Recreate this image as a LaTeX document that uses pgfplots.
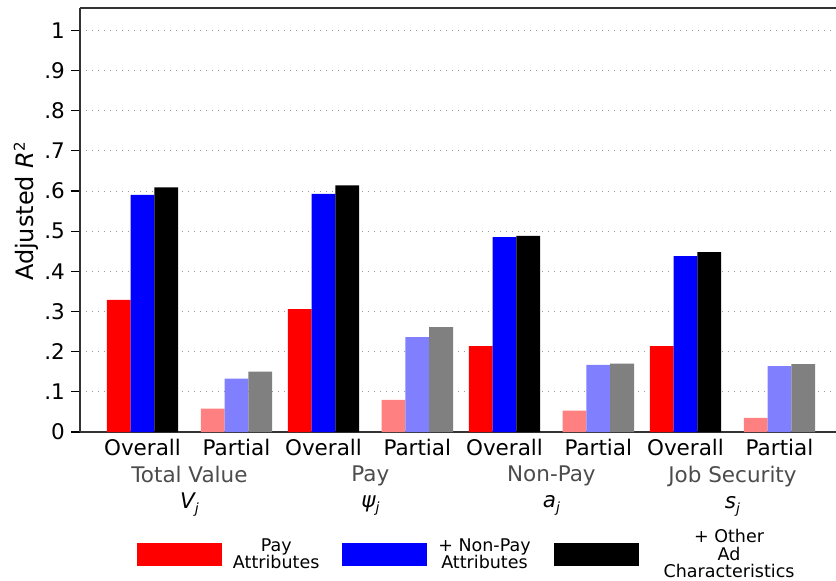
\documentclass[border=0pt]{standalone}
\usepackage{pgfplots}
\usepackage{pgfplotstable}
\usepackage{fontspec}
\setmainfont{DejaVu Sans}
\pgfplotsset{compat=1.18}

\definecolor{lred}{RGB}{255,128,128}
\definecolor{lblue}{RGB}{128,128,255}
\definecolor{mgray}{RGB}{128,128,128}

% x positions in pt from the left edge of the axis
\pgfplotstableread{
x     pay    nonpay  other
62.5  0.329  0.590   0.609
243.5 0.306  0.593   0.614
424.5 0.214  0.485   0.488
605.5 0.214  0.438   0.448
}\overall
\pgfplotstableread{
x     pay    nonpay  other
156.5 0.058  0.133   0.150
337.3 0.080  0.236   0.261
518.3 0.053  0.167   0.170
699.5 0.035  0.164   0.169
}\partial

\newcommand\sub[1]{\raisebox{-5pt}{\fontsize{14}{14}\selectfont\itshape #1}}
\pgfplotsset{
  boxlegend/.style={legend image code/.code={\fill[##1] (0pt,-11.5pt) rectangle (85pt,11.5pt);}},
  boxlegendwide/.style={legend image code/.code={\fill[##1] (0pt,-11.5pt) rectangle (85pt,11.5pt); \path[draw=none, fill=none] (99pt,-1pt) rectangle (99pt,1pt);}},
}

\begin{document}
\begin{tikzpicture}
\begin{axis}[
  name=ax,
  scale only axis, width=756pt, height=424pt,
  xmin=0, xmax=756, ymin=0, ymax=1.0555,
  axis x line=box, axis y line=left,
  axis line style={-, draw=black!80, line width=1.6pt},
  ybar, bar width=23.8pt,
  xtick={62.5,156.5,243.5,337.3,424.5,518.3,605.5,699.5},
  xticklabels={Overall,Partial,Overall,Partial,Overall,Partial,Overall,Partial},
  xtick style={draw=none},
  xticklabel style={inner sep=0pt, anchor=north, yshift=2.5pt, font=\fontsize{21.5}{26}\selectfont},
  extra x ticks={109.5,290.4,471.4,652.5},
  extra x tick labels={
    {\textcolor{black!70}{Total Value}\\{\itshape V}\sub{j}},
    {\textcolor{black!70}{Pay}\\{\itshape ψ}\sub{j}},
    {\textcolor{black!70}{Non-Pay}\\{\itshape a}\sub{j}},
    {\textcolor{black!70}{Job Security}\\{\itshape s}\sub{j}}},
  extra x tick style={major tick length=0pt, grid=none,
    tick label style={yshift=-36.5pt, align=center, font=\fontsize{21.5}{29}\selectfont}},
  ytick={0,0.1,0.2,0.3,0.4,0.5,0.6,0.7,0.8,0.9,1},
  yticklabels={0,.1,.2,.3,.4,.5,.6,.7,.8,.9,1},
  ytick pos=left, tick align=outside, major tick length=9pt,
  ytick style={line width=1.2pt, black},
  yticklabel style={inner sep=0pt, xshift=-6pt, font=\fontsize{21.5}{26}\selectfont},
  ymajorgrids,
  grid style={line width=0.9pt, gray!80, dash pattern=on 0.9pt off 5.1pt},
  ylabel={Adjusted {\itshape R}\raisebox{9pt}{\fontsize{15}{15}\selectfont 2}},
  every axis y label/.style={at={(axis description cs:-0.071,0.52)}, rotate=90, anchor=center, font=\fontsize{24}{24}\selectfont},
  legend columns=3,
  legend style={at={(axis description cs:0.0754,-0.2890)}, anchor=west,
    draw=none, fill=none, inner sep=0pt, outer sep=0pt,
    nodes={inner sep=0pt, outer sep=0pt},
    cells={align=center, anchor=center},
    font=\fontsize{17.5}{17.5}\selectfont,
    /tikz/every odd column/.style={column sep=11pt},
    /tikz/every even column/.style={column sep=23pt}},
]
\addplot[fill=red, draw=none, bar shift=-23.8pt, boxlegend] table[x=x, y=pay] {\overall};
\addlegendentry{Pay\\Attributes}
\addplot[fill=blue, draw=none, bar shift=0pt, boxlegend] table[x=x, y=nonpay] {\overall};
\addlegendentry{+ Non-Pay\\Attributes}
\addplot[fill=black, draw=none, bar shift=23.8pt, boxlegendwide] table[x=x, y=other] {\overall};
\addlegendentry{+ Other\\Ad\\Characteristics}
\addplot[fill=lred, draw=none, bar shift=-23.8pt, forget plot] table[x=x, y=pay] {\partial};
\addplot[fill=lblue, draw=none, bar shift=0pt, forget plot] table[x=x, y=nonpay] {\partial};
\addplot[fill=mgray, draw=none, bar shift=23.8pt, forget plot] table[x=x, y=other] {\partial};
\end{axis}
\pgfresetboundingbox
\path ([shift={(-80pt,-149pt)}]ax.south west) rectangle ([shift={(0pt,8pt)}]ax.north east);
\end{tikzpicture}
\end{document}
